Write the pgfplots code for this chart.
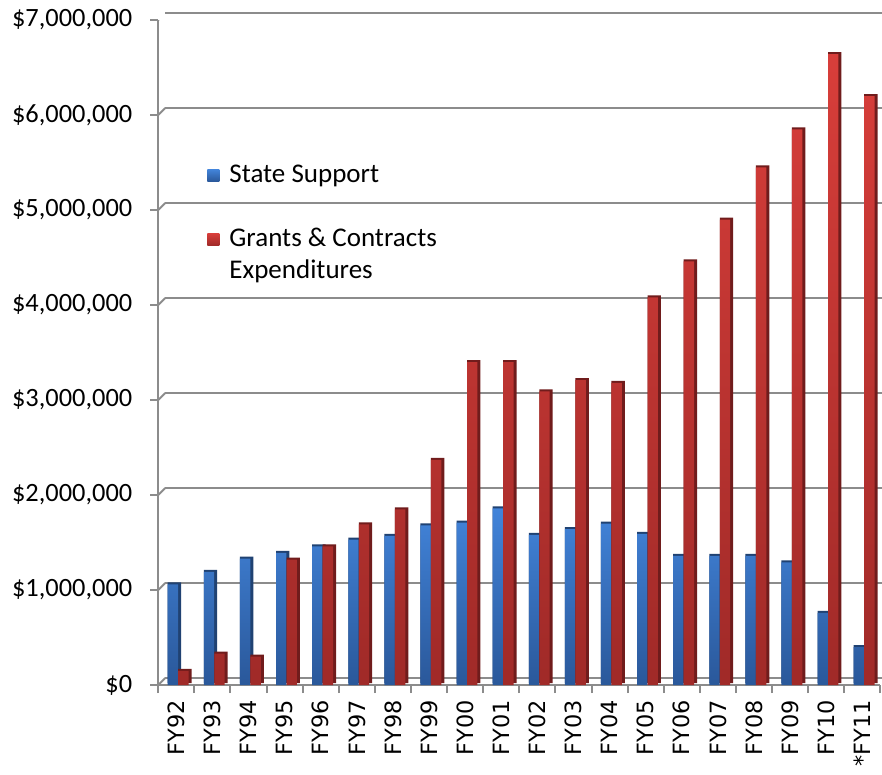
\documentclass[border=0pt]{standalone}
\usepackage{pgfplots}
\usepackage{pgfplotstable}
\pgfplotsset{compat=1.18}
\usepackage{fontspec}
\setmainfont{Carlito}
\newfontfamily\dejavu{DejaVu Sans}

\definecolor{gridgray}{RGB}{140,140,140}
\definecolor{bluetop}{RGB}{66,132,218}
\definecolor{bluebot}{RGB}{42,88,154}
\definecolor{blueside}{RGB}{32,66,114}
\definecolor{redtop}{RGB}{216,62,58}
\definecolor{redbot}{RGB}{160,42,40}
\definecolor{redside}{RGB}{112,28,28}

% values in millions of dollars
\pgfplotstableread{
x blue red
0  1.06 0.15
1  1.19 0.33
2  1.33 0.30
3  1.39 1.32
4  1.46 1.46
5  1.53 1.69
6  1.57 1.85
7  1.68 2.37
8  1.71 3.40
9  1.86 3.40
10 1.58 3.09
11 1.64 3.21
12 1.70 3.18
13 1.59 4.08
14 1.36 4.46
15 1.36 4.90
16 1.36 5.45
17 1.29 5.85
18 0.76 6.64
19 0.40 6.20
}\datatable

\begin{document}
\begin{tikzpicture}
\useasboundingbox (-79.15pt,-45pt) rectangle (361.85pt,342.5pt);
\begin{axis}[
    at={(0pt,0pt)}, anchor=south west,
    scale only axis, width=361pt, height=332.5pt,
    xmin=-0.5, xmax=19.5, ymin=0, ymax=7,
    axis x line*=bottom, axis y line*=left,
    axis line style={draw=gridgray, line width=1pt},
    tick align=outside,
    ytick={0,...,7},
    yticklabels={{\$0},{\$1,000,000},{\$2,000,000},{\$3,000,000},{\$4,000,000},{\$5,000,000},{\$6,000,000},{\$7,000,000}},
    yticklabel style={font=\fontsize{13.2}{15}\selectfont, xshift=-5.5pt},
    ytick style={draw=gridgray, line width=1pt},
    major tick length=4pt,
    minor tick length=4pt,
    xtick={0,...,19},
    xticklabels={FY92,FY93,FY94,FY95,FY96,FY97,FY98,FY99,FY00,FY01,FY02,FY03,FY04,FY05,FY06,FY07,FY08,FY09,FY10,*FY11},
    xticklabel style={rotate=90, anchor=east, font=\dejavu\fontsize{11.2}{13}\selectfont},
    major x tick style={draw=none},
    minor xtick={-0.5,0.5,...,19.5},
    minor x tick style={draw=gridgray, line width=1pt},
    ymajorgrids,
    major grid style={draw=gridgray, line width=1pt, xshift=3.5pt, yshift=3.5pt},
    legend style={at={(0.0675,0.791)}, anchor=north west, draw=none, fill=none,
        inner sep=0pt, row sep=0pt, font=\fontsize{13.5}{16}\selectfont,
        nodes={inner sep=0pt, text height=11.5pt, text depth=4.5pt},
        /tikz/every odd column/.append style={column sep=5pt}},
    legend cell align=left,
    legend image code/.code={\path[#1, draw=none] (0pt,-3pt) rectangle (6pt,3pt);},
]
\pgfplotsinvokeforeach{0,...,7}{
    \draw[gridgray, line width=1pt] (axis cs:-0.5,#1) -- ++(3.5pt,3.5pt);
}
% State Support
\addplot[ybar, bar width=6.7pt, bar shift=-0.95pt, fill=blueside, draw=none, yshift=1pt, forget plot]
    table[x=x, y=blue] {\datatable};
\addplot[ybar, bar width=5.2pt, bar shift=-1.7pt, draw=none, top color=bluetop, bottom color=bluebot]
    table[x=x, y=blue] {\datatable};
\addlegendentry{State Support}
\addlegendimage{empty legend}
\addlegendentry{}
% Grants & Contracts Expenditures
\addplot[ybar, bar width=6.7pt, bar shift=4.3pt, fill=redside, draw=none, yshift=1pt, forget plot]
    table[x=x, y=red] {\datatable};
\addplot[ybar, bar width=5.2pt, bar shift=3.55pt, draw=none, top color=redtop, bottom color=redbot]
    table[x=x, y=red] {\datatable};
\addlegendentry{Grants \& Contracts}
\addlegendimage{empty legend}
\addlegendentry{Expenditures}
\end{axis}
\end{tikzpicture}
\end{document}
